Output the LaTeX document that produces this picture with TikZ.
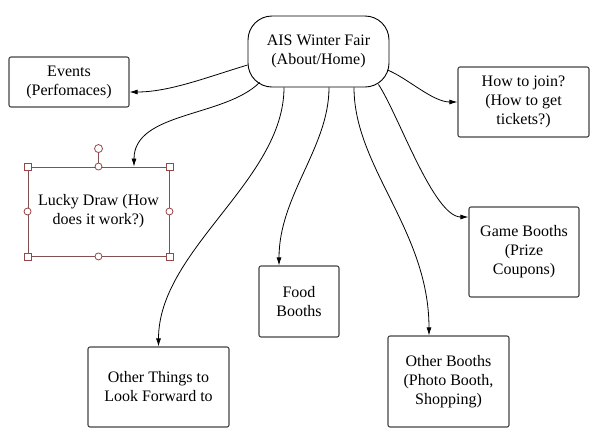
\documentclass[tikz,border=0pt]{standalone}
\usepackage{fontspec}
\setmainfont{Liberation Serif}
\usepackage{tikz}
\usetikzlibrary{arrows.meta}
\usetikzlibrary{positioning}
\definecolor{boxgray}{RGB}{68,68,68}
\definecolor{selred}{RGB}{130,80,80}
\definecolor{handred}{RGB}{150,70,70}

\begin{document}
\begin{tikzpicture}[x=1pt, y=-1pt,
    page/.style={draw=boxgray, line width=1.1pt, rounded corners=2pt, align=center,
                 inner sep=0pt, font=\fontsize{16}{19}\selectfont},
    homepage/.style={page, draw=black, line width=0.9pt, rounded corners=24pt},
    link/.style={-{Latex[length=8pt,width=5pt]}, line width=0.8pt},
    squarehandle/.style={draw=handred, fill=white, line width=0.8pt, minimum size=7pt, inner sep=0pt},
    roundhandle/.style={squarehandle, circle, minimum size=8pt}]
      \useasboundingbox (0,0) rectangle (597,440);
      % pages
      \node[homepage, minimum width=141pt, minimum height=71pt] (home) at (318.5,51.5) {AIS Winter Fair\\(About/Home)};
      \node[page, minimum width=120pt, minimum height=50pt] (events) at (69,82) {Events\\(Perfomaces)};
      \node[page, draw=selred, line width=0.9pt, rounded corners=0pt, minimum width=141pt, minimum height=89pt] (lucky) at (98.5,211.5) {Lucky Draw (How\\does it work?)};
      \node[page, minimum width=131pt, minimum height=70pt] (join) at (523.5,102) {How to join?\\(How to get\\tickets?)};
      \node[page, minimum width=110pt, minimum height=90pt] (game) at (524,252) {Game Booths\\(Prize\\Coupons)};
      \node[page, minimum width=80pt, minimum height=71pt] (food) at (299,301.5) {Food\\Booths};
      \node[page, minimum width=141pt, minimum height=80pt] (things) at (158.5,387) {Other Things to\\Look Forward to};
      \node[page, minimum width=121pt, minimum height=91pt] (booths) at (448.5,381.5) {Other Booths\\(Photo Booth,\\Shopping)};
      % selection handles on the lucky draw box
      \draw[draw=selred, line width=0.8pt] (lucky.north) -- ([yshift=18pt]lucky.north);
      \node[roundhandle] (rot) at ([yshift=18pt]lucky.north) {};
      \foreach \a in {north west, north east, south west, south east}
        \node[squarehandle] at (lucky.\a) {};
      \foreach \a in {north, south, east, west}
        \node[roundhandle, minimum size=7pt] at (lucky.\a) {};
      % links
      \draw[link] ([yshift=-13.5pt]home.west) .. controls +(-40,12) and +(40,0) .. ([yshift=-10pt]events.east);
      \draw[link] ([xshift=12pt,yshift=5pt]home.south west) .. controls +(-35,35) and +(0,-55) .. ([xshift=35.5pt]lucky.north);
      \draw[link] ([xshift=-34.5pt]home.south) .. controls +(0,93) and +(0,-97) .. (things.north);
      \draw[link] ([xshift=10.5pt]home.south) .. controls +(0,60) and +(0,-70) .. ([xshift=-20pt]food.north);
      \draw[link] ([xshift=35.5pt]home.south) .. controls +(0,80) and +(0,-105) .. ([xshift=-19.5pt]booths.north);
      \draw[link] ([xshift=-11pt,yshift=3pt]home.south east) .. controls +(20,30) and +(-35,0) .. ([yshift=35pt]game.west);
      \draw[link] ([xshift=-2pt,yshift=-18.5pt]home.east) .. controls +(20,8) and +(-25,0) .. (join.west);
\end{tikzpicture}
\end{document}
